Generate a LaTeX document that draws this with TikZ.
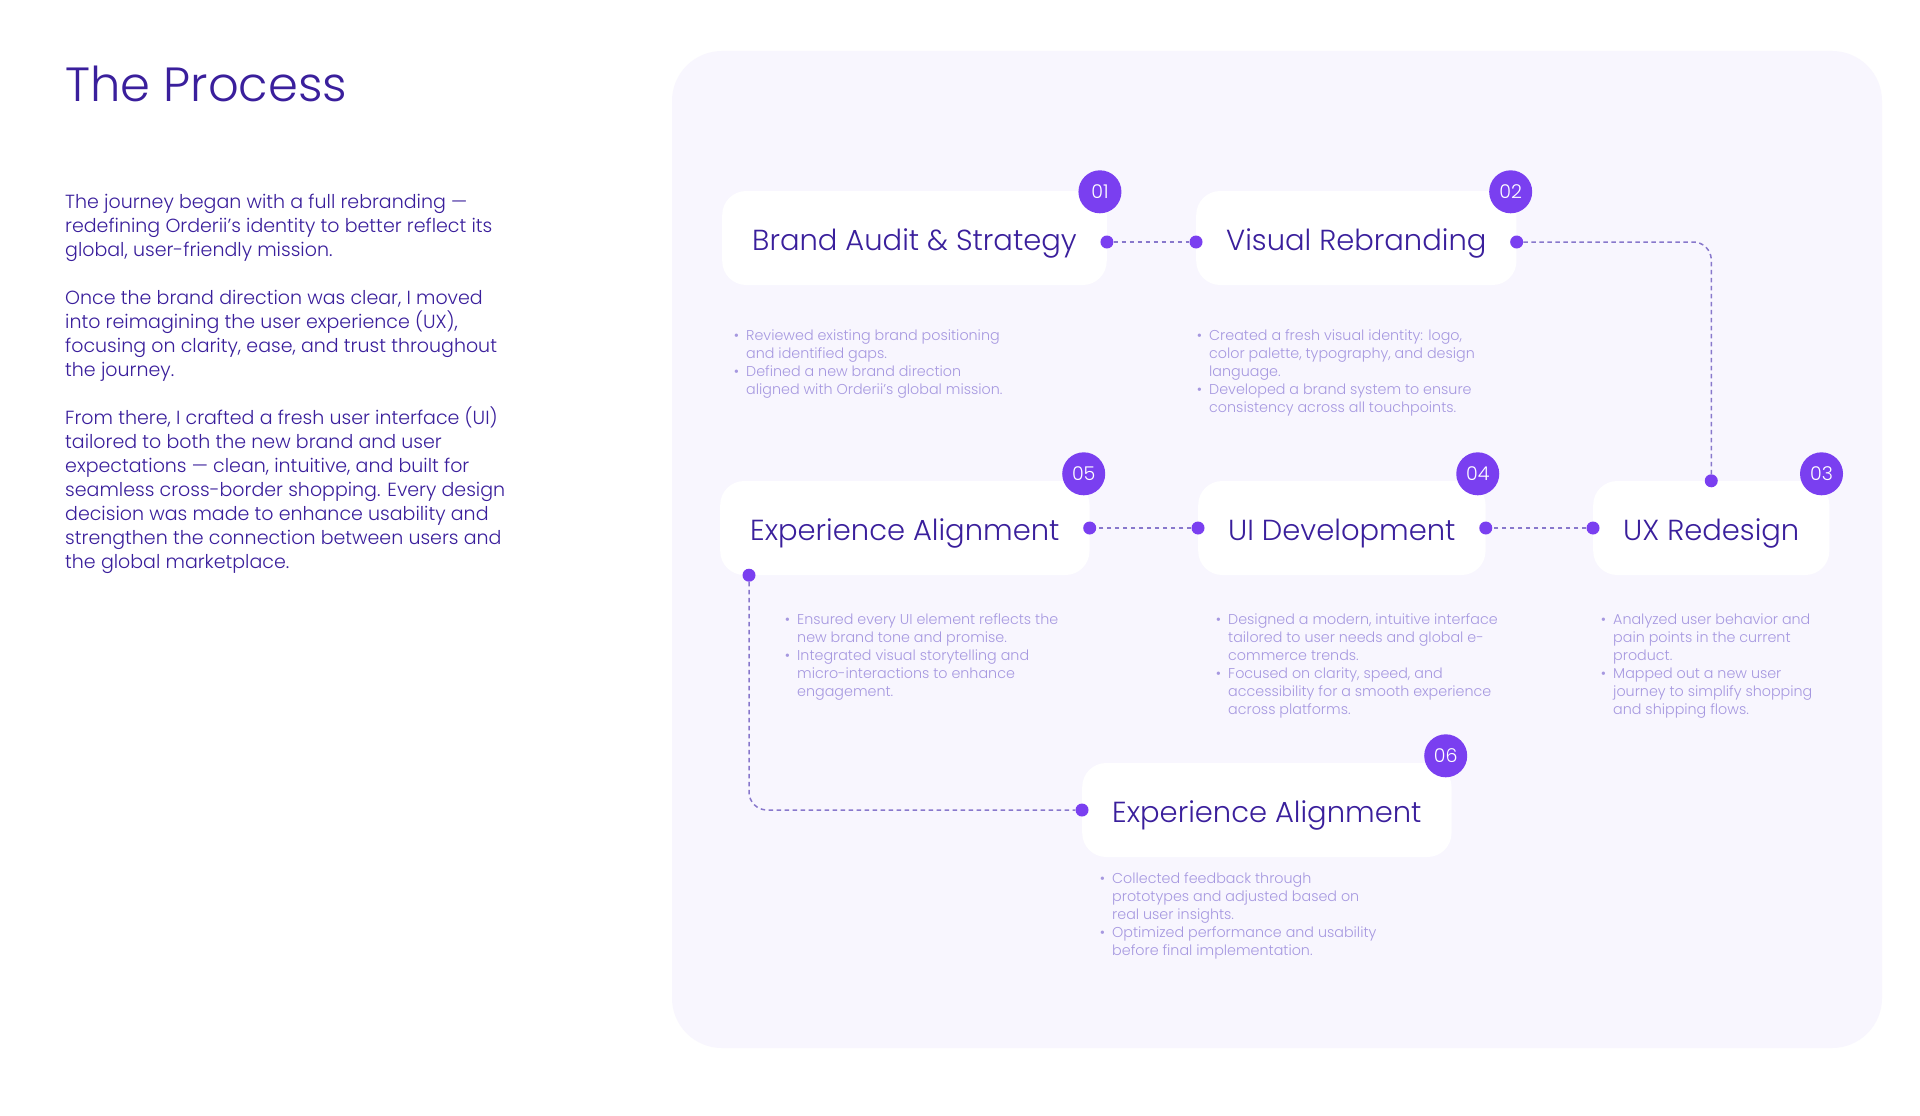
\documentclass[tikz,border=0pt]{standalone}
\usepackage{fontspec}
\IfFontExistsTF{Poppins Light}{\setmainfont{Poppins Light}}{\setmainfont{Poppins}}
\usetikzlibrary{calc}
\definecolor{panelc}{HTML}{F8F6FE}
\definecolor{ink}{HTML}{3A1F9C}
\definecolor{badgec}{HTML}{7A3FF0}
\definecolor{bulc}{HTML}{A698E0}
\definecolor{dashc}{HTML}{8878CC}
\tikzset{
  stepbox/.style={fill=white, rounded corners=24pt, minimum height=94pt, inner xsep=30pt, inner ysep=0pt, text height=24pt, text depth=0pt, font=\fontsize{29}{34}\selectfont, text=ink, anchor=west},
  badge/.style={circle, fill=badgec, minimum size=43pt, inner sep=0pt, text=white, font=\fontsize{19}{19}\selectfont},
  dotc/.style={circle, fill=badgec, minimum size=13pt, inner sep=0pt},
  conn/.style={draw=dashc, line width=1.5pt, dash pattern=on 4.5pt off 3.5pt},
  bul/.style={anchor=north west, align=left, text=bulc, font=\fontsize{14.3}{18}\selectfont, inner sep=0pt},
  para/.style={anchor=north west, align=left, text=ink, font=\fontsize{19}{24}\selectfont, inner sep=0pt},
}
\newcommand{\bpt}{\llap{\textbullet\hspace{7pt}}}
\begin{document}
\begin{tikzpicture}[x=1pt,y=-1pt]
\useasboundingbox (0,0) rectangle (1920,1116);
\fill[white] (0,0) rectangle (1920,1116);
\fill[panelc, rounded corners=50pt] (672,51) rectangle (1882,1048);

\node[anchor=base west, inner sep=0pt, text=ink, font=\fontsize{48}{56}\selectfont] (title) at (65,101) {The Process};
\node[para] (intro) at (65,194) {The journey began with a full rebranding —\\
redefining Orderii’s identity to better reflect its\\
global, user-friendly mission.\\[24pt]
Once the brand direction was clear, I moved\\
into reimagining the user experience (UX),\\
focusing on clarity, ease, and trust throughout\\
the journey.\\[24pt]
From there, I crafted a fresh user interface (UI)\\
tailored to both the new brand and user\\
expectations — clean, intuitive, and built for\\
seamless cross-border shopping. Every design\\
decision was made to enhance usability and\\
strengthen the connection between users and\\
the global marketplace.};

% boxes
\node[stepbox] (b1) at (722,238) {Brand Audit \& Strategy};
\node[stepbox] (b2) at (1196,238) {Visual Rebranding};
\node[stepbox] (b3) at (1593,528) {UX Redesign};
\node[stepbox] (b4) at (1198,528) {UI Development};
\node[stepbox] (b5) at (720,528) {Experience Alignment};
\node[stepbox] (b6) at (1082,810) {Experience Alignment};

% badges
\node[badge] (n1) at ($(b1.north east)+(-7,1)$) {01};
\node[badge] (n2) at ($(b2.north east)+(-6,1)$) {02};
\node[badge] (n3) at ($(b3.north east)+(-8,-7)$) {03};
\node[badge] (n4) at ($(b4.north east)+(-8,-7)$) {04};
\node[badge] (n5) at ($(b5.north east)+(-6,-7)$) {05};
\node[badge] (n6) at ($(b6.north east)+(-6,-7)$) {06};

% dots
\node[dotc] (d1e) at ($(b1.east)+(0,4)$) {};
\node[dotc] (d2w) at ($(b2.west)+(0,4)$) {};
\node[dotc] (d2e) at ($(b2.east)+(0,4)$) {};
\node[dotc] (d3n) at (b3.north) {};
\node[dotc] (d3w) at (b3.west) {};
\node[dotc] (d4e) at (b4.east) {};
\node[dotc] (d4w) at (b4.west) {};
\node[dotc] (d5e) at (b5.east) {};
\node[dotc] (d5s) at ($(b5.south west)+(29,0)$) {};
\node[dotc] (d6w) at (b6.west) {};

% connectors
\draw[conn] (d1e) -- (d2w);
\draw[conn, rounded corners=18pt] (d2e) -| (d3n);
\draw[conn] (d3w) -- (d4e);
\draw[conn] (d4w) -- (d5e);
\draw[conn, rounded corners=18pt] (d5s) |- (d6w);

% bullet texts
\node[bul] (t1) at (746,329.5) {\bpt Reviewed existing brand positioning\\
and identified gaps.\\
\bpt Defined a new brand direction\\
aligned with Orderii’s global mission.};
\node[bul] (t2) at (1209,329.5) {\bpt Created a fresh visual identity: logo,\\
color palette, typography, and design\\
language.\\
\bpt Developed a brand system to ensure\\
consistency across all touchpoints.};
\node[bul] (t5) at (797,613.5) {\bpt Ensured every UI element reflects the\\
new brand tone and promise.\\
\bpt Integrated visual storytelling and\\
micro-interactions to enhance\\
engagement.};
\node[bul] (t4) at (1228,613.5) {\bpt Designed a modern, intuitive interface\\
tailored to user needs and global e-\\
commerce trends.\\
\bpt Focused on clarity, speed, and\\
accessibility for a smooth experience\\
across platforms.};
\node[bul] (t3) at (1613,613.5) {\bpt Analyzed user behavior and\\
pain points in the current\\
product.\\
\bpt Mapped out a new user\\
journey to simplify shopping\\
and shipping flows.};
\node[bul] (t6) at (1112,872.5) {\bpt Collected feedback through\\
prototypes and adjusted based on\\
real user insights.\\
\bpt Optimized performance and usability\\
before final implementation.};
\end{tikzpicture}
\end{document}
